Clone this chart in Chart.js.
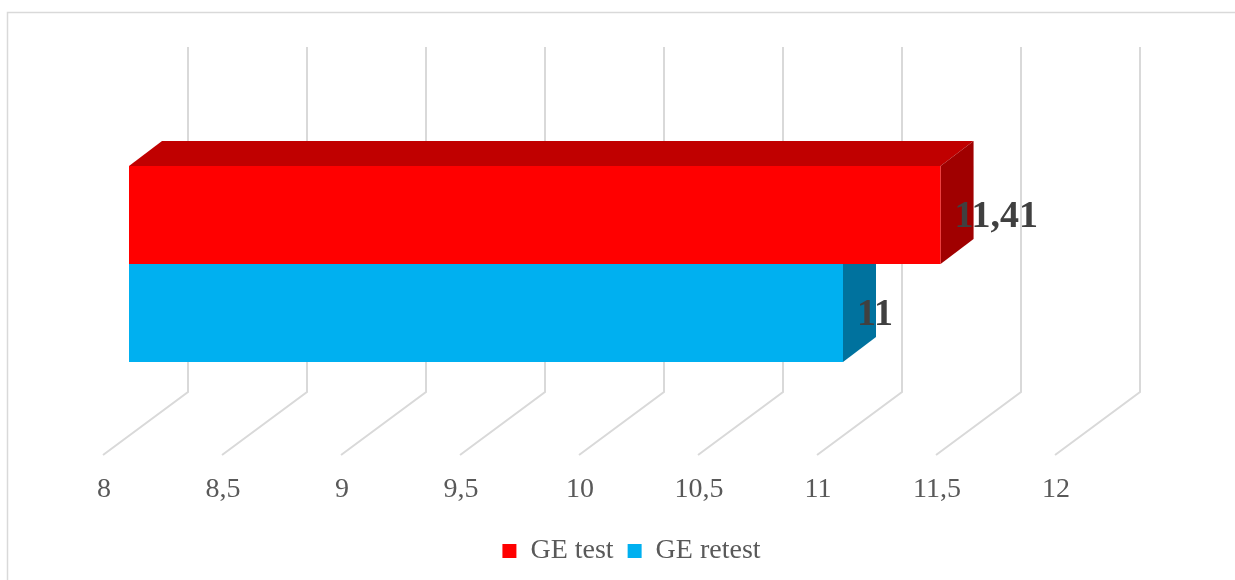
<!DOCTYPE html>
<html>
<head>
<meta charset="utf-8">
<title>GE test / retest</title>
<script src="https://cdn.jsdelivr.net/npm/chart.js@4/dist/chart.umd.min.js"></script>
<style>
  html, body { margin: 0; padding: 0; background: #ffffff; }
  #wrap { position: relative; width: 1235px; height: 580px; }
  canvas { display: block; }
</style>
</head>
<body>
<div id="wrap"><canvas id="chart" width="1235" height="580"></canvas></div>
<script>
// ---- data ----
const categories = [''];
const seriesNames = ['GE test', 'GE retest'];
const geTest = [11.41];
const geRetest = [11];
const tickLabels = ['8', '8,5', '9', '9,5', '10', '10,5', '11', '11,5', '12'];
const valueLabels = [['11,41'], ['11']];

// ---- look ----
const SERIF = '"Liberation Serif", "Times New Roman", serif';
const GRID = '#d9d9d9';
const faces = [
  { front: '#ff0000', top: '#c00000', side: '#a00000' },
  { front: '#00b0f0', top: '#0089bb', side: '#00729e' }
];

// 3D geometry of the box the bars stand in
const WALL_TOP = 47;      // top of the back wall
const WALL_BOTTOM = 392;  // where back wall meets the floor
const BACK_DX = 59;       // back wall x offset from the bar front plane
const FRONT_DX = -26;     // floor front edge x offset from the bar front plane
const BAR_DX = 33;        // bar extrusion
const BAR_DY = -25;

function fmt(v) { return String(v).replace('.', ','); }

const frame = {
  id: 'frame',
  beforeDraw(chart) {
    const ctx = chart.ctx;
    ctx.save();
    ctx.strokeStyle = GRID;
    ctx.lineWidth = 1.5;
    ctx.strokeRect(7.5, 12.5, chart.width, chart.height);
    ctx.restore();
  }
};

const box3d = {
  id: 'box3d',
  beforeDatasetsDraw(chart) {
    const ctx = chart.ctx;
    const xs = chart.scales.x;
    const area = chart.chartArea;
    ctx.save();
    // wall + floor grid lines
    ctx.strokeStyle = GRID;
    ctx.lineWidth = 2;
    xs.ticks.forEach(t => {
      const px = xs.getPixelForValue(t.value);
      ctx.beginPath();
      ctx.moveTo(px + BACK_DX, WALL_TOP);
      ctx.lineTo(px + BACK_DX, WALL_BOTTOM);
      ctx.lineTo(px + FRONT_DX, area.bottom);
      ctx.stroke();
    });
    // top and side faces of each bar (fronts are drawn by Chart.js over them)
    for (let d = chart.data.datasets.length - 1; d >= 0; d--) {
      const meta = chart.getDatasetMeta(d);
      meta.data.forEach(el => {
        const p = el.getProps(['x', 'y', 'base', 'height'], true);
        const base = Math.max(p.base, area.left);
        const top = p.y - p.height / 2;
        const bot = p.y + p.height / 2;
        ctx.fillStyle = faces[d].top;
        ctx.beginPath();
        ctx.moveTo(base, top);
        ctx.lineTo(p.x, top);
        ctx.lineTo(p.x + BAR_DX, top + BAR_DY);
        ctx.lineTo(base + BAR_DX, top + BAR_DY);
        ctx.closePath();
        ctx.fill();
        ctx.fillStyle = faces[d].side;
        ctx.beginPath();
        ctx.moveTo(p.x, top);
        ctx.lineTo(p.x + BAR_DX, top + BAR_DY);
        ctx.lineTo(p.x + BAR_DX, bot + BAR_DY);
        ctx.lineTo(p.x, bot);
        ctx.closePath();
        ctx.fill();
      });
    }
    ctx.restore();
  },
  afterDatasetsDraw(chart) {
    const ctx = chart.ctx;
    ctx.save();
    ctx.font = 'bold 38px ' + SERIF;
    ctx.fillStyle = '#404040';
    ctx.textAlign = 'left';
    ctx.textBaseline = 'middle';
    chart.data.datasets.forEach((ds, d) => {
      chart.getDatasetMeta(d).data.forEach((el, i) => {
        const p = el.getProps(['x', 'y'], true);
        ctx.fillText(valueLabels[d][i], p.x + 14, p.y + 2);
      });
    });
    ctx.restore();
  }
};

new Chart(document.getElementById('chart'), {
  type: 'bar',
  data: {
    labels: categories,
    datasets: [
      { label: seriesNames[0], data: geTest, backgroundColor: faces[0].front, borderWidth: 0 },
      { label: seriesNames[1], data: geRetest, backgroundColor: faces[1].front, borderWidth: 0 }
    ]
  },
  options: {
    indexAxis: 'y',
    responsive: false,
    animation: false,
    devicePixelRatio: 1,
    categoryPercentage: 0.513,
    barPercentage: 1,
    layout: { padding: { left: 28, right: 0, top: 73, bottom: 5 } },
    scales: {
      x: {
        min: 8,
        max: 12,
        ticks: {
          stepSize: 0.5,
          autoSkip: false,
          maxRotation: 0,
          padding: 18,
          labelOffset: -25,
          color: '#595959',
          font: { family: SERIF, size: 28 },
          callback: (v, i) => tickLabels[i] !== undefined ? tickLabels[i] : fmt(v)
        },
        grid: { display: false, drawTicks: false },
        border: { display: false },
        afterFit: s => { s.height = 68; }
      },
      y: {
        position: 'left',
        ticks: { display: false },
        grid: { display: false, drawTicks: false },
        border: { display: false },
        afterFit: s => { s.width = 101; }
      },
      yRight: {
        type: 'linear',
        position: 'right',
        ticks: { display: false },
        grid: { display: false, drawTicks: false },
        border: { display: false },
        afterFit: s => { s.width = 154; }
      }
    },
    plugins: {
      legend: {
        position: 'bottom',
        labels: {
          boxWidth: 14,
          boxHeight: 14,
          padding: 14,
          color: '#595959',
          font: { family: SERIF, size: 28 }
        }
      },
      tooltip: { enabled: false }
    }
  },
  plugins: [frame, box3d]
});
</script>
</body>
</html>
